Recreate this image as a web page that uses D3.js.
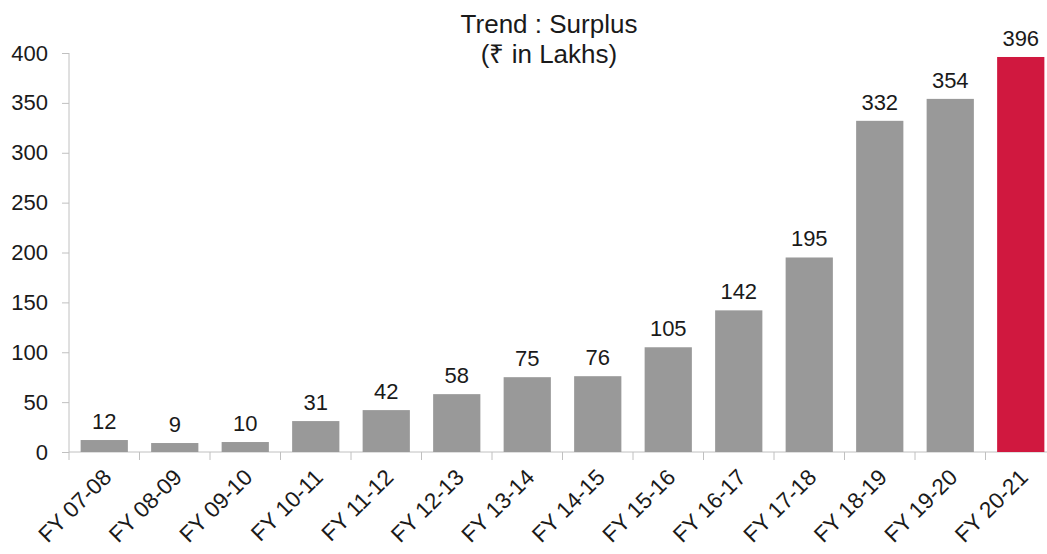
<!DOCTYPE html>
<html>
<head>
<meta charset="utf-8">
<script src="https://cdn.jsdelivr.net/npm/d3@7"></script>
<style>
body{margin:0;background:#fff;}
text{font-family:"Liberation Sans",Arial,sans-serif;fill:#1a1a1a;}
</style>
</head>
<body>
<svg id="c" width="1047" height="554"></svg>
<script>
const categories = ["FY 07-08","FY 08-09","FY 09-10","FY 10-11","FY 11-12","FY 12-13","FY 13-14","FY 14-15","FY 15-16","FY 16-17","FY 17-18","FY 18-19","FY 19-20","FY 20-21"];
const values = [12,9,10,31,42,58,75,76,105,142,195,332,354,396];
const yTicks = [0,50,100,150,200,250,300,350,400];
const titleLines = ["Trend : Surplus","(₹ in Lakhs)"];

const svg = d3.select("#c");
const x = d3.scaleBand().domain(categories).range([69,1056]).paddingInner(0.33).paddingOuter(0.165);
const y = d3.scaleLinear().domain([0,400]).range([452,53]);
const axisColor = "#c0c0c0";

// y axis
const ya = svg.append("g").attr("transform","translate(69,0)")
  .call(d3.axisLeft(y).tickValues(yTicks).tickSize(7).tickPadding(14));
ya.select(".domain").attr("stroke",axisColor).attr("d","M0,53V452");
ya.selectAll(".tick line").attr("stroke",axisColor);
ya.selectAll(".tick text").style("font-size","22px").attr("fill","#1a1a1a");

// x axis line and boundary ticks
const xa = svg.append("g");
xa.append("line").attr("x1",69).attr("x2",1056).attr("y1",452).attr("y2",452).attr("stroke",axisColor);
const step = x.step();
const bounds = d3.range(categories.length+1).map(i=>69+i*step);
xa.selectAll("line.tk").data(bounds).join("line").attr("class","tk")
  .attr("x1",d=>d).attr("x2",d=>d).attr("y1",452).attr("y2",460).attr("stroke",axisColor);
xa.selectAll("text.xl").data(categories).join("text").attr("class","xl")
  .attr("text-anchor","end")
  .attr("transform",d=>`translate(${x(d)+x.bandwidth()/2+3},473) rotate(-45)`)
  .attr("dy","0.35em")
  .style("font-size","22.5px")
  .text(d=>d);

// bars
svg.selectAll("rect.bar").data(values).join("rect").attr("class","bar")
  .attr("x",(d,i)=>x(categories[i]))
  .attr("width",x.bandwidth())
  .attr("y",d=>y(d))
  .attr("height",d=>y(0)-y(d))
  .attr("fill",(d,i)=>i===categories.length-1?"#D0183F":"#999999");

// value labels
svg.selectAll("text.vl").data(values).join("text").attr("class","vl")
  .attr("x",(d,i)=>x(categories[i])+x.bandwidth()/2)
  .attr("y",d=>y(d)-11)
  .attr("text-anchor","middle")
  .style("font-size","22px")
  .text(d=>d);

// title
svg.selectAll("text.tt").data(titleLines).join("text").attr("class","tt")
  .attr("x",549).attr("y",(d,i)=>33+i*30)
  .attr("text-anchor","middle")
  .style("font-size","26px")
  .text(d=>d);
</script>
</body>
</html>
